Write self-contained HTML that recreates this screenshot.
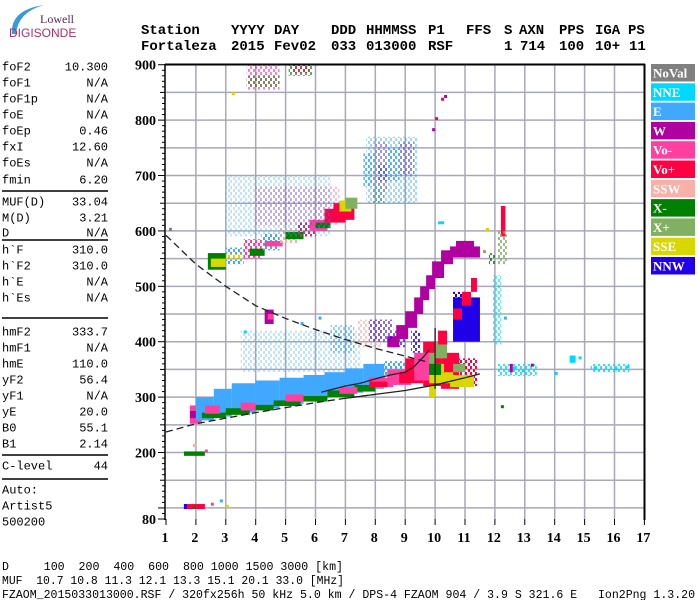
<!DOCTYPE html>
<html><head><meta charset="utf-8">
<style>
html,body{margin:0;padding:0;background:#fff;}
#wrap{position:relative;width:700px;height:600px;overflow:hidden;}
svg{position:absolute;left:0;top:0;}
.mono{font-family:"Liberation Mono",monospace;}
.hdr{font-family:"Liberation Mono",monospace;font-weight:bold;font-size:14px;}
.lab{font-family:"Liberation Mono",monospace;font-size:12px;}
.tick{font-family:"Liberation Serif",serif;font-weight:bold;font-size:14px;}
.leg{font-family:"Liberation Serif",serif;font-weight:bold;font-size:13px;fill:#fff;}
</style></head>
<body>
<div id="wrap">
<svg id="svg" width="700" height="600" viewBox="0 0 700 600">
  <defs id="defs"></defs>
  <g>
    <path d="M12,34 Q10,10 44,5 Q18,12 16,34 Z" fill="#3a9ad8"/>
    <text x="40" y="23" font-family="Liberation Serif,serif" font-size="12" fill="#5a2a50">Lowell</text>
    <text x="9" y="37" font-family="Liberation Sans,sans-serif" font-size="12" fill="#b03060">DIGISONDE</text>
  </g>
  <g id="header"></g>
  <g id="left"></g>
  <g id="grid"></g>
  <g id="marks"></g>
  <g id="curves"></g>
  <g id="axes"></g>
  <g id="legend"></g>
  <g>
    <text class="mono" x="2" y="570" font-size="12" textLength="341" lengthAdjust="spacingAndGlyphs" xml:space="preserve">D     100  200  400  600  800 1000 1500 3000 [km]</text>
    <text class="mono" x="2" y="584" font-size="12" textLength="342" lengthAdjust="spacingAndGlyphs" xml:space="preserve">MUF  10.7 10.8 11.3 12.1 13.3 15.1 20.1 33.0 [MHz]</text>
    <text class="mono" x="2" y="598" font-size="12" textLength="693" lengthAdjust="spacingAndGlyphs" xml:space="preserve">FZAOM_2015033013000.RSF / 320fx256h 50 kHz 5.0 km / DPS-4 FZAOM 904 / 3.9 S 321.6 E   Ion2Png 1.3.20</text>
  </g>
</svg>
</div>
<script>
// ---- data ----
const legendNames = ["NoVal","NNE","E","W","Vo-","Vo+","SSW","X-","X+","SSE","NNW"];
const legendColors = ["#808080","#00d8ff","#40a8ff","#b000a0","#ff40a0","#ff0040","#f8b0a8","#008000","#80b060","#d8d800","#2000e8"];
const xTicks = [1,2,3,4,5,6,7,8,9,10,11,12,13,14,15,16,17];
const yTickLabels = [80,200,300,400,500,600,700,800,900];
const headerRow1 = [["Station",141],["YYYY",231],["DAY",274],["DDD",331],["HHMMSS",366],["P1",428],["FFS",466],["S",504],["AXN",519],["PPS",559],["IGA",595],["PS",628]];
const headerRow2 = [["Fortaleza",141],["2015",231],["Fev02",274],["033",331],["013000",366],["RSF",428],["1",504],["714",520],["100",559],["10+",595],["11",629]];
const paramNames = ["foF2","foF1","foF1p","foE","foEp","fxI","foEs","fmin","MUF(D)","M(D)","D","h`F","h`F2","h`E","h`Es","hmF2","hmF1","hmE","yF2","yF1","yE","B0","B1","C-level"];
const paramValues = ["10.300","N/A","N/A","N/A","0.46","12.60","N/A","6.20","33.04","3.21","N/A","310.0","310.0","N/A","N/A","333.7","N/A","110.0","56.4","N/A","20.0","55.1","2.14","44"];
// echo blobs: [freqStart, freqEnd, heightLow, heightHigh, colorIndex, density]
const blobs = [
 [1.6,2.3,194,202,7,1],[1.6,2.3,98,107,5,1],[1.6,1.7,98,107,10,1],[1.9,2.0,98,103,7,1],
 [1.8,2.2,252,285,4,0.8],[1.8,2.0,262,275,3,1],
 [2.0,2.6,258,300,2,0.8],[2.6,3.2,265,315,2,0.8],[3.2,4.0,272,325,2,0.8],[4.0,4.8,280,330,2,0.8],
 [4.8,5.6,288,335,2,0.8],[5.6,6.3,295,340,2,0.8],[6.3,7.0,302,345,2,0.8],[7.0,7.6,308,352,2,0.8],
 [7.6,8.3,315,360,2,0.8],[8.3,9.0,325,365,2,0.7],
 [2.2,3.0,262,272,7,1],[3.0,3.8,268,280,7,1],[3.8,4.6,276,286,7,1],[4.6,5.5,284,294,7,1],
 [5.5,6.4,292,302,7,1],[6.4,7.3,300,312,7,1],[7.3,8.0,310,322,7,1],
 [2.3,2.8,270,285,4,1],[3.5,4.0,276,290,4,1],[5.0,5.6,292,305,4,1],[6.8,7.4,306,318,4,1],
 [7.8,8.6,318,335,4,1],[8.4,9.2,322,350,4,1],
 [7.8,8.4,318,328,5,1],[8.8,9.6,325,345,5,1],[9.0,9.6,330,370,5,1],
 [9.6,10.2,320,400,5,0.8],[10.2,10.8,315,380,5,0.8],[10.8,11.4,320,370,5,0.7],
 [9.8,10.6,325,345,9,1],[10.5,11.3,318,340,9,1],[9.9,10.3,345,360,9,1],
 [10.0,10.4,370,400,8,1],[9.6,10.0,360,380,8,1],[10.6,11.0,345,360,8,1],[9.8,10.0,300,320,9,1],
 [10.1,10.4,395,420,5,1],[9.3,9.8,330,380,4,0.8],[9.8,10.2,340,360,7,1],
 [10.6,11.5,400,480,10,0.8],[10.6,11.0,460,490,10,0.7],[9.2,9.5,380,420,10,0.5],[8.6,9.0,390,420,10,0.4],
 [10.6,10.9,440,460,5,1],[10.9,11.2,465,490,5,1],[11.2,11.4,490,515,5,1],
 [8.4,8.8,390,410,3,1],[8.7,9.1,405,430,3,1],[9.0,9.4,425,455,3,1],[9.3,9.6,450,480,3,1],
 [9.5,9.8,475,500,3,1],[9.7,10.0,495,520,3,1],[9.9,10.3,515,545,3,1],[10.2,10.6,540,565,3,1],
 [10.5,11.5,552,572,3,1],[10.7,11.3,565,582,3,0.8],
 [12.2,12.35,590,645,5,0.8],[12.1,12.4,540,600,8,0.5],[11.9,12.2,395,520,1,0.4],[11.8,12.0,540,560,7,0.5],
 [12.1,13.4,338,360,1,0.5],[14.5,14.7,362,375,1,0.8],[15.2,16.5,345,360,1,0.5],[12.5,12.6,345,360,3,1],
 [2.4,3.0,530,560,7,0.8],[2.5,3.0,535,550,9,0.8],[3.0,3.6,540,570,2,0.7],[3.0,3.6,548,558,9,0.7],
 [3.6,4.2,550,585,4,0.7],[3.8,4.3,555,568,7,0.8],[4.2,4.8,565,595,2,0.7],[4.3,4.9,572,582,4,0.8],
 [4.8,5.4,578,605,6,0.7],[5.0,5.6,585,598,7,0.8],[5.4,6.0,590,615,5,0.7],[5.8,6.4,600,620,4,0.9],
 [6.0,6.5,605,615,7,0.9],[6.3,7.0,615,640,5,1],[6.6,7.3,620,650,5,1],[6.8,7.2,635,655,9,0.8],[7.0,7.4,640,660,8,0.8],
 [3.0,6.5,590,700,2,0.2],[4.0,6.8,610,680,3,0.15],
 [7.6,8.0,680,740,2,0.5],[8.0,8.4,670,760,4,0.4],[8.4,8.8,690,750,2,0.5],[8.8,9.3,700,760,3,0.35],
 [7.9,8.3,650,680,8,0.6],[8.1,8.4,690,720,10,0.4],[7.7,9.4,650,770,2,0.3],
 [3.7,4.8,855,900,4,0.4],[3.7,4.8,860,880,7,0.3],[5.1,5.9,880,900,7,0.4],[5.2,5.8,885,900,5,0.4],
 [4.3,4.6,432,458,3,1],[4.4,4.6,440,450,4,1],
 [3.5,7.5,345,420,2,0.2],[6.5,7.3,380,430,2,0.35],[7.4,8.2,390,440,6,0.4],[7.8,8.6,400,440,10,0.35]
];
// individual echo points: freq, height, color
const ptFreq = [10.0,10.2,10.3,9.9,10.1,10.2,2.8,3.0,2.5,1.9,2.3,3.6,5.5,6.1,12.6,12.9,13.2,14.0,14.8,15.3,16.0,16.4,11.7,12.2,12.3,11.6,3.2,1.1];
const ptHeight= [800,835,840,780,612,612,110,100,104,210,200,415,430,440,350,345,355,340,368,350,348,352,600,280,440,560,845,600];
const ptColor = [5,5,3,3,1,1,2,9,4,6,4,1,2,2,1,1,3,1,1,1,1,1,9,7,2,8,9,0];
// model curves
const lowerF = [1.0,2.0,3.0,4.0,5.0,6.0,7.0,8.0,9.0,10.0,11.0,11.5];
const lowerH = [237,252,262,272,281,290,298,305,312,322,335,342];
const upperF = [1.0,2.0,3.0,4.0,5.0,6.0,7.0,8.0,9.0,9.7];
const upperH = [592,540,500,465,442,422,404,388,374,364];
const zigF = [6.2,7.0,7.5,8.0,8.5,9.0,9.3,9.6,9.8];
const zigH = [309,320,325,333,340,345,355,372,385];

// ---- scales ----
const X0=166, XS=29.9, Y0=519, YS=0.554;
const xs = f => X0 + (f-1)*XS;
const ys = h => Y0 - (h-80)*YS;
const NS="http://www.w3.org/2000/svg";
function mk(tag, parent){ const e=document.createElementNS(NS,tag); parent.appendChild(e); return e; }

// speckle patterns per colour
const defs=document.getElementById('defs');
legendColors.forEach((c,i)=>{
  const p=mk('pattern',defs); p.setAttribute('id','sp'+i); p.setAttribute('patternUnits','userSpaceOnUse');
  p.setAttribute('width',5); p.setAttribute('height',6);
  const a=mk('rect',p); a.setAttribute('x',0); a.setAttribute('y',0); a.setAttribute('width',2); a.setAttribute('height',3); a.setAttribute('fill',c);
  const b=mk('rect',p); b.setAttribute('x',3); b.setAttribute('y',3); b.setAttribute('width',2); b.setAttribute('height',3); b.setAttribute('fill',c);
});

// header
const hdr=document.getElementById('header');
headerRow1.forEach(t=>{ const e=mk('text',hdr); e.setAttribute('class','hdr'); e.setAttribute('x',t[1]); e.setAttribute('y',34); e.textContent=t[0];

 });
headerRow2.forEach(t=>{ const e=mk('text',hdr); e.setAttribute('class','hdr'); e.setAttribute('x',t[1]); e.setAttribute('y',50); e.textContent=t[0];

 });

// left panel
const left=document.getElementById('left');
const rowY=[67,83,99,115,131,147,163,180,202,218,233,250,266,282,298,332,348,364,380,396,412,428,444,466];
paramNames.forEach((n,i)=>{
  const a=mk('text',left); a.setAttribute('class','lab'); a.setAttribute('x',2); a.setAttribute('y',rowY[i]+3.5); a.textContent=n;
  
  
  const b=mk('text',left); b.setAttribute('class','lab'); b.setAttribute('x',108); b.setAttribute('y',rowY[i]+3.5); b.setAttribute('text-anchor','end'); b.textContent=paramValues[i];
  
  
});
[["Auto:",490],["Artist5",506],["500200",522]].forEach(t=>{ const e=mk('text',left); e.setAttribute('class','lab'); e.setAttribute('x',2); e.setAttribute('y',t[1]+3.5); e.textContent=t[0];

 });
[191,240,318,455,479].forEach(y=>{ const l=mk('line',left); l.setAttribute('x1',2); l.setAttribute('x2',108); l.setAttribute('y1',y); l.setAttribute('y2',y); l.setAttribute('stroke','#000'); l.setAttribute('stroke-width','1.5');

 });

// grid
const grid=document.getElementById('grid');
for(let h=100;h<=850;h+=50){ const l=mk('line',grid); l.setAttribute('x1',X0); l.setAttribute('x2',644); l.setAttribute('y1',ys(h)); l.setAttribute('y2',ys(h)); l.setAttribute('stroke','#a8a8b8'); l.setAttribute('stroke-width','1.5');

 }
for(let f=2;f<=16;f++){ const l=mk('line',grid); l.setAttribute('x1',xs(f)); l.setAttribute('x2',xs(f)); l.setAttribute('y1',65); l.setAttribute('y2',Y0); l.setAttribute('stroke','#a8a8b8'); l.setAttribute('stroke-width','1.5');

 }

// marks
const marks=document.getElementById('marks');
blobs.forEach(b=>{ const r=mk('rect',marks);
  r.setAttribute('x',xs(b[0])); r.setAttribute('width',Math.max(2,xs(b[1])-xs(b[0])));
  r.setAttribute('y',ys(b[3])); r.setAttribute('height',Math.max(2,ys(b[2])-ys(b[3])));
  if(b[5]>=0.75){ r.setAttribute('fill',legendColors[b[4]]); }
  else { r.setAttribute('fill','url(#sp'+b[4]+')'); r.setAttribute('opacity',Math.min(1,b[5]*1.6)); }
  
   });
ptFreq.forEach((f,i)=>{ const r=mk('rect',marks);
  r.setAttribute('x',xs(f)); r.setAttribute('y',ys(ptHeight[i])-3); r.setAttribute('width',3); r.setAttribute('height',3);
  r.setAttribute('fill',legendColors[ptColor[i]]);
  
   });

// curves
const curves=document.getElementById('curves');
function poly(F,H,dash,name){ const p=mk('polyline',curves);
  p.setAttribute('points',F.map((f,i)=>xs(f)+','+ys(H[i])).join(' '));
  p.setAttribute('fill','none'); p.setAttribute('stroke','#222'); p.setAttribute('stroke-width','1.3');
  if(dash) p.setAttribute('stroke-dasharray',dash);
  
   }
poly(lowerF.slice(0,8),lowerH.slice(0,8),'7,4','lower-profile-dashed');
poly(lowerF.slice(6),lowerH.slice(6),null,'lower-profile-solid');
poly(upperF,upperH,'7,4','upper-profile-dashed');
poly(zigF,zigH,null,'trace-fit-line');
poly([10.0,10.0],[315,425],null,'critical-frequency-line');

// axes
const axes=document.getElementById('axes');
function ln(x1,y1,x2,y2,w,name){ const l=mk('line',axes); l.setAttribute('x1',x1); l.setAttribute('y1',y1); l.setAttribute('x2',x2); l.setAttribute('y2',y2); l.setAttribute('stroke','#000'); l.setAttribute('stroke-width',w);

 }
ln(165,64,165,520,1.5,'y-axis-line');
ln(165,64.5,645,64.5,2,'plot-top-border');
ln(644.5,64,644.5,520,2,'plot-right-border');
for(let h=80;h<=900;h+=10){ const len = (h%100===0||h===80)?7:(h%50===0?5:3); ln(165-len,ys(h),165,ys(h),1,'y-tick'); }
yTickLabels.forEach(h=>{ const t=mk('text',axes); t.setAttribute('class','tick'); t.setAttribute('x',156); t.setAttribute('y',ys(h)+5); t.setAttribute('text-anchor','end'); t.textContent=h;

 });
xTicks.forEach(f=>{ ln(xs(f),519,xs(f),525,1,'x-tick');
  const t=mk('text',axes); t.setAttribute('class','tick'); t.setAttribute('x',xs(f)-1); t.setAttribute('y',542); t.setAttribute('text-anchor','middle'); t.textContent=f;
  
   });

// legend
const leg=document.getElementById('legend');
legendNames.forEach((n,i)=>{ const y=64+i*19.3;
  const r=mk('rect',leg); r.setAttribute('x',651); r.setAttribute('y',y); r.setAttribute('width',44); r.setAttribute('height',17.5); r.setAttribute('fill',legendColors[i]);
  
  
  const t=mk('text',leg); t.setAttribute('class','leg'); t.setAttribute('x',653); t.setAttribute('y',y+13.5); t.textContent=n;
  
   });
</script>
</body></html>
